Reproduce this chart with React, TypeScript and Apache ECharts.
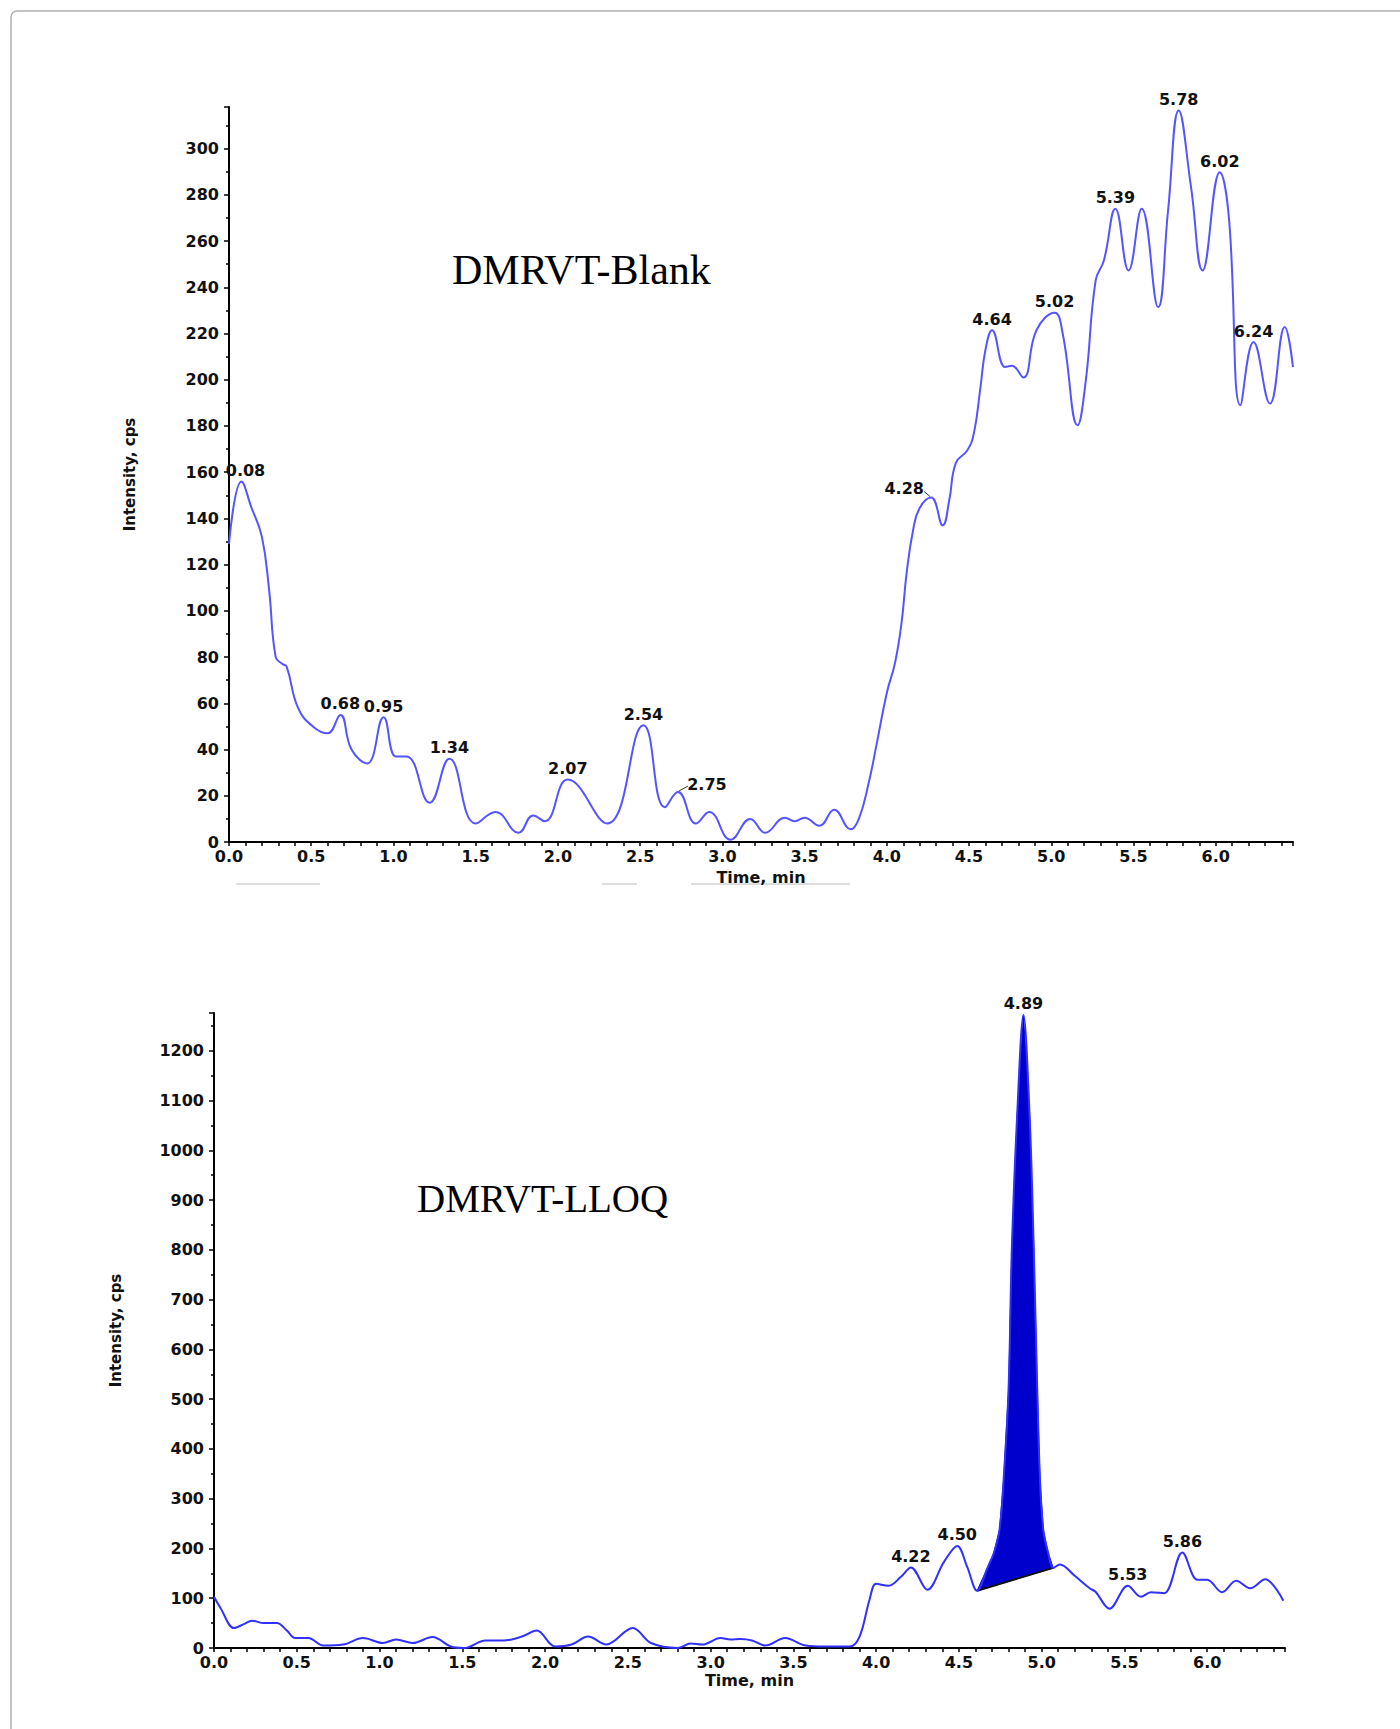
import React, { useEffect, useRef } from "react";
import * as echarts from "echarts";

// ---------- DMRVT-Blank chromatogram ----------
const blankTime = [
  0.0, 0.076, 0.135, 0.2, 0.244, 0.284, 0.325, 0.35, 0.42, 0.51, 0.6, 0.677, 0.745, 0.84, 0.94,
  1.015, 1.08, 1.22, 1.34, 1.5, 1.62, 1.76, 1.85, 1.92, 2.06, 2.3, 2.52, 2.65, 2.73, 2.84, 2.92,
  3.05, 3.17, 3.26, 3.38, 3.44, 3.5, 3.59, 3.68, 3.78, 3.83, 3.89, 3.94, 4.0, 4.05, 4.09, 4.12,
  4.16, 4.2, 4.27, 4.34, 4.38, 4.42, 4.49, 4.53, 4.57, 4.6, 4.64, 4.72, 4.76, 4.83, 4.91, 5.02,
  5.07, 5.16, 5.21, 5.27, 5.32, 5.39, 5.47, 5.55, 5.65, 5.71, 5.775, 5.85, 5.92, 6.025, 6.08,
  6.15, 6.23, 6.33, 6.42, 6.47,
];
const blankIntensity = [
  129, 156, 145, 132, 109, 80, 77, 76, 58, 50, 47, 55, 40, 34, 54,
  37, 37, 17, 36, 8, 13, 4, 11.5, 9, 27, 8, 50.5, 15, 21.6, 8, 13,
  1, 10, 4, 10.5, 9, 10.5, 7, 14, 5.5, 10, 25.6, 43, 64.5, 77.5, 95, 116,
  135, 144.5, 149, 137, 148, 164, 169.5, 177, 197, 213, 221.4, 205.5, 206, 201, 221.4, 229,
  219.8, 180.3, 199.6, 243, 251.6, 274, 247.3, 274, 231.4, 273, 316.5, 283.3, 247.3, 289.8, 270.3,
  189, 216.3, 189.7, 222.8, 205.5,
];
const blankPeakLabels = [
  "0.08", "0.68", "0.95", "1.34", "2.07", "2.54", "2.75", "4.28",
  "4.64", "5.02", "5.39", "5.78", "6.02", "6.24",
];

// ---------- DMRVT-LLOQ chromatogram ----------
const lloqTime = [
  0.0, 0.04, 0.12, 0.18, 0.23, 0.3, 0.38, 0.44, 0.49, 0.57, 0.66, 0.78, 0.9, 1.02, 1.1, 1.2,
  1.32, 1.43, 1.51, 1.64, 1.75, 1.86, 1.95, 2.06, 2.16, 2.26, 2.37, 2.53, 2.64, 2.8, 2.88, 2.95,
  3.06, 3.12, 3.18, 3.25, 3.33, 3.45, 3.575, 3.69, 3.84, 3.9, 3.96, 4.0, 4.075, 4.15, 4.21, 4.31, 4.41,
  4.49, 4.55, 4.61, 4.675, 4.71, 4.745, 4.77, 4.8, 4.82, 4.852, 4.89, 4.927, 4.952, 4.972, 4.99,
  5.01, 5.04, 5.07, 5.11, 5.2, 5.29, 5.325, 5.41, 5.52, 5.6, 5.66, 5.74, 5.85, 5.94, 6.0, 6.09,
  6.175, 6.26, 6.35, 6.46,
];
const lloqIntensity = [
  103, 80, 40, 48, 55, 50, 50, 35, 20, 20, 5, 7, 20, 10, 17, 10,
  22, 3, 0, 15, 15, 23, 35, 3, 7, 23, 7, 40, 10, 0, 9, 7,
  20, 17, 18, 15, 5, 20, 5, 3, 3, 23, 97, 129, 125, 143, 162, 117, 173,
  205, 163, 115, 163, 190, 237, 337, 520, 804, 1071, 1272, 1071, 804, 537, 337,
  237, 190, 161, 168, 145, 120, 113, 79, 125, 103, 112, 110, 192, 137, 137, 112,
  135, 120, 138, 95,
];
const lloqPeakLabels = ["4.22", "4.50", "4.89", "5.53", "5.86"];
const lloqIntegrationStart = 4.61;
const lloqIntegrationEnd = 5.07;

// ---------- helpers ----------
const zip = (xs: number[], ys: number[]) => xs.map((x, i) => [x, ys[i]]);
const nearestPoint = (xs: number[], ys: number[], t: number) => {
  let best = 0;
  xs.forEach((x, i) => {
    if (Math.abs(x - t) < Math.abs(xs[best] - t)) best = i;
  });
  return [xs[best], ys[best]];
};

// label offsets (pixels) for labels drawn beside their peaks with a leader line
const labelOffsets: Record<string, { dx: number; dy: number; leader?: number[] }> = {
  "0.08": { dx: 4, dy: 0 },
  "2.75": { dx: 29, dy: 3, leader: [1, -1, 10, -6] },
  "4.28": { dx: -27, dy: 2, leader: [-1, -1, -7, -6] },
};

const SANS = '"DejaVu Sans", "Liberation Sans", Arial, sans-serif';
const LABEL_FONT = `bold 16px ${SANS}`;

function labelSeries(xs: number[], ys: number[], labels: string[], axisIdx: number) {
  const pts = labels.map((l) => nearestPoint(xs, ys, parseFloat(l)));
  return {
    type: "custom",
    coordinateSystem: "cartesian2d",
    xAxisIndex: axisIdx,
    yAxisIndex: axisIdx,
    silent: true,
    z: 10,
    data: pts,
    encode: { x: 0, y: 1 },
    renderItem: (params: any, api: any) => {
      const text = labels[params.dataIndex];
      const p = api.coord([api.value(0), api.value(1)]);
      const off = labelOffsets[text] || { dx: 0, dy: 0 };
      const children: any[] = [
        {
          type: "text",
          x: p[0] + off.dx,
          y: p[1] - 11 + off.dy,
          style: {
            text,
            font: LABEL_FONT,
            fill: "#111",
            align: "center",
            verticalAlign: "middle",
          },
        },
      ];
      if (off.leader) {
        const l = off.leader;
        children.push({
          type: "line",
          shape: { x1: p[0] + l[0], y1: p[1] + l[1], x2: p[0] + l[2], y2: p[1] + l[3] },
          style: { stroke: "#333", lineWidth: 1 },
        });
      }
      return { type: "group", children };
    },
  };
}

function axisX(gridIndex: number, nameGap: number) {
  return {
    type: "value",
    gridIndex,
    min: 0,
    max: 6.47,
    interval: 0.5,
    name: "Time, min",
    nameLocation: "middle",
    nameGap,
    nameTextStyle: { color: "#111", fontFamily: SANS, fontWeight: "bold", fontSize: 16 },
    axisLine: { onZero: false, lineStyle: { color: "#000", width: 2 } },
    axisTick: { show: true, length: 4, lineStyle: { color: "#000", width: 1.5 } },
    minorTick: { show: true, splitNumber: 5, length: 4, lineStyle: { color: "#000", width: 1.5 } },
    splitLine: { show: false },
    minorSplitLine: { show: false },
    axisLabel: {
      margin: 6,
      showMaxLabel: false,
      color: "#111",
      fontFamily: SANS,
      fontWeight: "bold",
      fontSize: 16,
      formatter: (v: number) => v.toFixed(1),
    },
  };
}

function axisY(gridIndex: number, max: number, interval: number, nameGap: number) {
  return {
    type: "value",
    gridIndex,
    min: 0,
    max,
    interval,
    name: "Intensity, cps",
    nameLocation: "middle",
    nameGap,
    nameTextStyle: { color: "#111", fontFamily: SANS, fontWeight: "bold", fontSize: 15 },
    axisLine: { show: true, lineStyle: { color: "#000", width: 2 } },
    axisTick: { show: true, length: 5, lineStyle: { color: "#000", width: 1.5 } },
    minorTick: { show: true, splitNumber: 2, length: 3, lineStyle: { color: "#000", width: 1.5 } },
    splitLine: { show: false },
    minorSplitLine: { show: false },
    axisLabel: {
      margin: 10,
      showMaxLabel: false,
      color: "#111",
      fontFamily: SANS,
      fontWeight: "bold",
      fontSize: 16,
      formatter: (v: number) => String(v),
    },
  };
}

export default function App() {
  const ref = useRef<HTMLDivElement>(null);

  useEffect(() => {
    if (!ref.current) return;
    const chart = echarts.init(ref.current, undefined, { renderer: "svg" });

    const peakIdx = lloqTime
      .map((t, i) => (t >= lloqIntegrationStart - 1e-9 && t <= lloqIntegrationEnd + 1e-9 ? i : -1))
      .filter((i) => i >= 0);
    const peakData = peakIdx.map((i) => [lloqTime[i], lloqIntensity[i]]);

    const option: any = {
      animation: false,
      backgroundColor: "#fff",
      grid: [
        { left: 229, right: 107, top: 107, bottom: 887 },
        { left: 214, right: 115, top: 1013, bottom: 81 },
      ],
      xAxis: [axisX(0, 27), axisX(1, 24)],
      yAxis: [axisY(0, 318, 20, 92), axisY(1, 1276, 100, 91)],
      series: [
        {
          type: "line",
          xAxisIndex: 0,
          yAxisIndex: 0,
          data: zip(blankTime, blankIntensity),
          showSymbol: false,
          smooth: 0.45,
          lineStyle: { color: "#5555ff", width: 2 },
          silent: true,
        },
        labelSeries(blankTime, blankIntensity, blankPeakLabels, 0),
        {
          type: "custom",
          coordinateSystem: "cartesian2d",
          xAxisIndex: 1,
          yAxisIndex: 1,
          silent: true,
          z: 1,
          data: peakData,
          encode: { x: 0, y: 1 },
          renderItem: (params: any, api: any) => {
            if (params.dataIndex !== 0) return null;
            const pts = peakData.map((d) => api.coord(d));
            const first = pts[0];
            const last = pts[pts.length - 1];
            return {
              type: "group",
              children: [
                {
                  type: "polygon",
                  shape: { points: pts },
                  style: { fill: "#0000cc", stroke: "#0000cc", lineWidth: 1 },
                },
                {
                  type: "line",
                  shape: { x1: first[0], y1: first[1], x2: last[0], y2: last[1] },
                  style: { stroke: "#111", lineWidth: 2 },
                },
              ],
            };
          },
        },
        {
          type: "line",
          xAxisIndex: 1,
          yAxisIndex: 1,
          data: zip(lloqTime, lloqIntensity),
          showSymbol: false,
          smooth: 0.35,
          lineStyle: { color: "#3030ff", width: 2 },
          silent: true,
          z: 2,
        },
        labelSeries(lloqTime, lloqIntensity, lloqPeakLabels, 1),
      ],
      graphic: [
        {
          type: "rect",
          shape: { x: 11, y: 11, width: 1500, height: 1800, r: 6 },
          style: { fill: "none", stroke: "#b0b0b0", lineWidth: 1.5 },
          silent: true,
        },
        { type: "line", shape: { x1: 236, y1: 884, x2: 320, y2: 884 }, style: { stroke: "#dedede", lineWidth: 2 } },
        { type: "line", shape: { x1: 602, y1: 884, x2: 637, y2: 884 }, style: { stroke: "#dedede", lineWidth: 2 } },
        { type: "line", shape: { x1: 691, y1: 884, x2: 850, y2: 884 }, style: { stroke: "#dedede", lineWidth: 2 } },
        {
          type: "text",
          x: 452,
          y: 270,
          style: {
            text: "DMRVT-Blank",
            font: '42px "Liberation Serif", "Times New Roman", serif',
            fill: "#000",
            align: "left",
            verticalAlign: "middle",
          },
        },
        {
          type: "text",
          x: 417,
          y: 1198,
          style: {
            text: "DMRVT-LLOQ",
            font: '39px "Liberation Serif", "Times New Roman", serif',
            fill: "#000",
            align: "left",
            verticalAlign: "middle",
          },
        },
      ],
    };

    chart.setOption(option);
    return () => chart.dispose();
  }, []);

  return (
    <div
      ref={ref}
      style={{ position: "absolute", left: 0, top: 0, width: 1400, height: 1729, background: "#fff" }}
    />
  );
}
